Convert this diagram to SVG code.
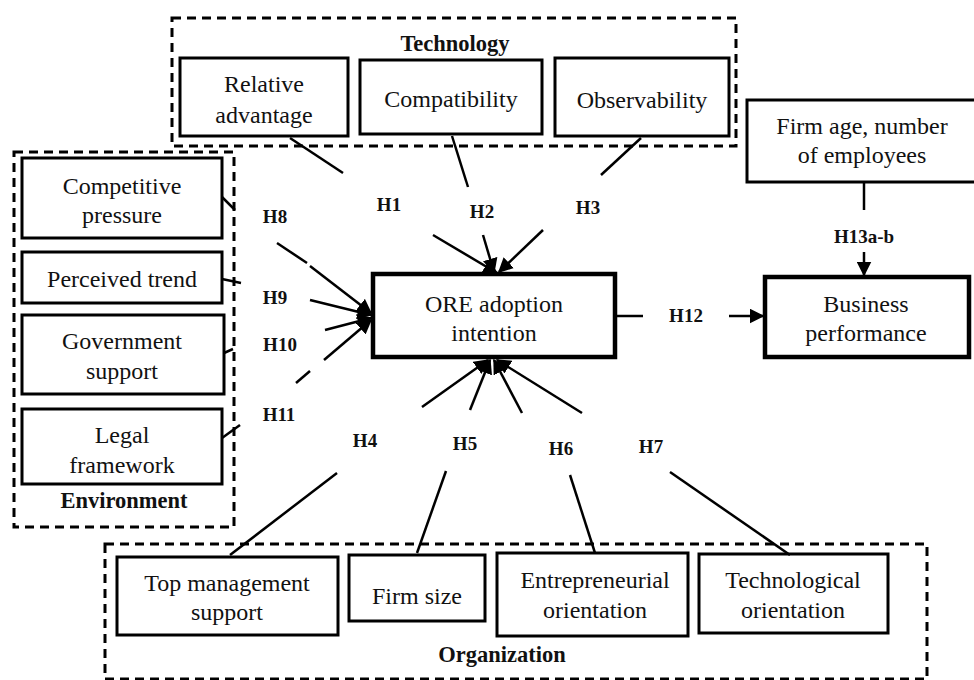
<svg xmlns="http://www.w3.org/2000/svg" width="974" height="680" viewBox="0 0 974 680">
<style>
.box{fill:#fff;stroke:#000;stroke-width:3}
.thick{fill:#fff;stroke:#000;stroke-width:4.5}
.grp{fill:none;stroke:#000;stroke-width:3;stroke-dasharray:9,6}
.t{font-family:"Liberation Serif","Times New Roman",serif;font-size:24px;fill:#111;text-anchor:middle}
.h{font-family:"Liberation Serif","Times New Roman",serif;font-size:19px;font-weight:bold;fill:#111;text-anchor:middle}
.g{font-family:"Liberation Serif","Times New Roman",serif;font-size:22.5px;font-weight:bold;fill:#111;text-anchor:middle}
.c{fill:none;stroke:#000;stroke-width:2.5}
</style>
<defs>
<marker id="ah" viewBox="0 0 10 10" refX="9" refY="5" markerWidth="6" markerHeight="6" orient="auto" markerUnits="strokeWidth">
<path d="M0,0 L10,5 L0,10 z" fill="#000"/>
</marker>
</defs>
<rect width="974" height="680" fill="#fff"/>

<g id="technology">
<rect class="grp" x="172" y="18" width="564" height="128"/>
<text class="g" x="455" y="51">Technology</text>
</g>
<g id="environment">
<rect class="grp" x="14" y="152" width="220" height="375"/>
<text class="g" x="124" y="508">Environment</text>
</g>
<g id="organization">
<rect class="grp" x="105" y="544" width="822" height="135"/>
<text class="g" x="502" y="662">Organization</text>
</g>

<g id="relative-advantage">
<rect class="box" x="180" y="58" width="168" height="78"/>
<text class="t" x="264" y="92">Relative</text>
<text class="t" x="264" y="123">advantage</text>
</g>
<g id="compatibility">
<rect class="box" x="360" y="60" width="182" height="74"/>
<text class="t" x="451" y="107">Compatibility</text>
</g>
<g id="observability">
<rect class="box" x="555" y="58" width="174" height="78"/>
<text class="t" x="642" y="108">Observability</text>
</g>
<g id="competitive-pressure">
<rect class="box" x="22" y="158" width="200" height="80"/>
<text class="t" x="122" y="194">Competitive</text>
<text class="t" x="122" y="223">pressure</text>
</g>
<g id="perceived-trend">
<rect class="box" x="22" y="252" width="200" height="51"/>
<text class="t" x="122" y="287">Perceived trend</text>
</g>
<g id="government-support">
<rect class="box" x="22" y="315" width="202" height="79"/>
<text class="t" x="122" y="349">Government</text>
<text class="t" x="122" y="379">support</text>
</g>
<g id="legal-framework">
<rect class="box" x="22" y="409" width="200" height="75"/>
<text class="t" x="122" y="443">Legal</text>
<text class="t" x="122" y="473">framework</text>
</g>
<g id="ore-adoption-intention">
<rect class="thick" x="373" y="274" width="242" height="83"/>
<text class="t" x="494" y="312">ORE adoption</text>
<text class="t" x="494" y="341">intention</text>
</g>
<g id="business-performance">
<rect class="thick" x="765" y="277" width="204" height="80"/>
<text class="t" x="866" y="312">Business</text>
<text class="t" x="866" y="341">performance</text>
</g>
<g id="firm-age">
<rect class="box" x="747" y="100" width="229" height="82"/>
<text class="t" x="862" y="134">Firm age, number</text>
<text class="t" x="862" y="163">of employees</text>
</g>
<g id="top-management-support">
<rect class="box" x="117" y="557" width="221" height="78"/>
<text class="t" x="227" y="591">Top management</text>
<text class="t" x="227" y="620">support</text>
</g>
<g id="firm-size">
<rect class="box" x="349" y="555" width="136" height="66"/>
<text class="t" x="417" y="604">Firm size</text>
</g>
<g id="entrepreneurial-orientation">
<rect class="box" x="497" y="553" width="191" height="83"/>
<text class="t" x="595" y="588">Entrepreneurial</text>
<text class="t" x="595" y="618">orientation</text>
</g>
<g id="technological-orientation">
<rect class="box" x="699" y="554" width="189" height="79"/>
<text class="t" x="793" y="588">Technological</text>
<text class="t" x="793" y="618">orientation</text>
</g>

<g id="connectors">
<line class="c" x1="290" y1="138" x2="343" y2="173"/>
<line class="c" x1="433" y1="235" x2="497" y2="273" marker-end="url(#ah)"/>
<line class="c" x1="452" y1="136" x2="468" y2="187"/>
<line class="c" x1="483" y1="235" x2="494" y2="272" marker-end="url(#ah)"/>
<line class="c" x1="641" y1="138" x2="601" y2="175"/>
<line class="c" x1="543" y1="230" x2="499" y2="272" marker-end="url(#ah)"/>
<line class="c" x1="222" y1="197" x2="235" y2="210"/>
<line class="c" x1="277" y1="243" x2="307" y2="263"/>
<line class="c" x1="310" y1="266" x2="371" y2="313" marker-end="url(#ah)"/>
<line class="c" x1="222" y1="279" x2="241" y2="283"/>
<line class="c" x1="310" y1="300" x2="371" y2="315" marker-end="url(#ah)"/>
<line class="c" x1="224" y1="353" x2="233" y2="349"/>
<line class="c" x1="325" y1="330" x2="371" y2="318" marker-end="url(#ah)"/>
<line class="c" x1="222" y1="438" x2="240" y2="425"/>
<line class="c" x1="296" y1="383" x2="310" y2="371"/>
<line class="c" x1="324" y1="360" x2="371" y2="320" marker-end="url(#ah)"/>
<line class="c" x1="230" y1="555" x2="337" y2="473"/>
<line class="c" x1="422" y1="407" x2="488" y2="360" marker-end="url(#ah)"/>
<line class="c" x1="417" y1="553" x2="446" y2="471"/>
<line class="c" x1="470" y1="410" x2="490" y2="360" marker-end="url(#ah)"/>
<line class="c" x1="595" y1="553" x2="570" y2="475"/>
<line class="c" x1="522" y1="413" x2="494" y2="360" marker-end="url(#ah)"/>
<line class="c" x1="790" y1="555" x2="670" y2="472"/>
<line class="c" x1="582" y1="413" x2="497" y2="360" marker-end="url(#ah)"/>
<line class="c" x1="615" y1="316" x2="643" y2="316"/>
<line class="c" x1="729" y1="316" x2="763" y2="316" marker-end="url(#ah)"/>
<line class="c" x1="864" y1="182" x2="864" y2="210"/>
<line class="c" x1="864" y1="252" x2="864" y2="275" marker-end="url(#ah)"/>

<text class="h" x="389" y="211">H1</text>
<text class="h" x="482" y="218">H2</text>
<text class="h" x="588" y="214">H3</text>
<text class="h" x="275" y="223">H8</text>
<text class="h" x="275" y="304">H9</text>
<text class="h" x="280" y="351">H10</text>
<text class="h" x="279" y="421">H11</text>
<text class="h" x="365" y="447">H4</text>
<text class="h" x="465" y="450">H5</text>
<text class="h" x="561" y="455">H6</text>
<text class="h" x="651" y="453">H7</text>
<text class="h" x="686" y="322">H12</text>
<text class="h" x="864" y="243">H13a-b</text>
</g>
</svg>
